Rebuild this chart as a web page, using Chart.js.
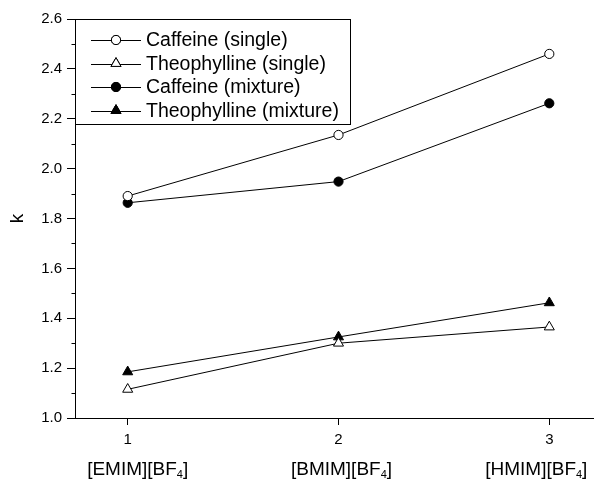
<!DOCTYPE html>
<html>
<head>
<meta charset="utf-8">
<script src="https://cdn.jsdelivr.net/npm/chart.js@4/dist/chart.umd.min.js"></script>
<style>
  html, body { margin: 0; padding: 0; background: #fff; overflow: hidden; }
  #wrap { width: 620px; height: 481px; }
</style>
</head>
<body>
<div id="wrap"><canvas id="c" width="620" height="481"></canvas></div>
<script>
// ---- data ----
const xPositions = [1, 2, 3];
const categoryNames = ["[EMIM][BF", "[BMIM][BF", "[HMIM][BF"]; // each followed by subscript 4 and "]"
const categorySub = "4";
const caffeineSingle = [1.89, 2.135, 2.46];
const theophyllineSingle = [1.115, 1.30, 1.365];
const caffeineMixture = [1.863, 1.948, 2.262];
const theophyllineMixture = [1.185, 1.325, 1.462];
const seriesNames = ["Caffeine (single)", "Theophylline (single)", "Caffeine (mixture)", "Theophylline (mixture)"];
const yTicks = [1.0, 1.2, 1.4, 1.6, 1.8, 2.0, 2.2, 2.4, 2.6];
const yMinorTicks = [1.1, 1.3, 1.5, 1.7, 1.9, 2.1, 2.3, 2.5];
const yTitle = "k";

const FONT = "'Liberation Sans', Arial, Helvetica, sans-serif";
// horizontal nudges of the category captions relative to their tick (layout only)
const captionShift = [10, 3, -13];

function pts(arr) { return arr.map((v, i) => ({ x: xPositions[i], y: v })); }

function ds(label, data, style, filled) {
  const r = style === 'circle' ? 4.6 : 5.8;
  return {
    label, data: pts(data),
    borderColor: '#000', borderWidth: 1,
    pointStyle: style, pointRadius: r, pointHoverRadius: r,
    pointBackgroundColor: filled ? '#000' : '#fff',
    pointBorderColor: '#000', pointBorderWidth: 1,
    tension: 0, fill: false
  };
}

const datasets = [
  ds(seriesNames[0], caffeineSingle, 'circle', false),
  ds(seriesNames[1], theophyllineSingle, 'triangle', false),
  ds(seriesNames[2], caffeineMixture, 'circle', true),
  ds(seriesNames[3], theophyllineMixture, 'triangle', true)
];

const extras = {
  id: 'extras',
  afterDraw(chart) {
    const ctx = chart.ctx;
    const xs = chart.scales.x, ys = chart.scales.y;
    ctx.save();
    // minor y ticks
    ctx.strokeStyle = '#000'; ctx.lineWidth = 1;
    const ax = Math.round(xs.left) + 0.5;
    yMinorTicks.forEach(v => {
      const y = Math.round(ys.getPixelForValue(v)) + 0.5;
      ctx.beginPath(); ctx.moveTo(ax - 4, y); ctx.lineTo(ax, y); ctx.stroke();
    });
    // category labels
    ctx.fillStyle = '#000';
    ctx.textBaseline = 'alphabetic';
    categoryNames.forEach((name, i) => {
      const cx = xs.getPixelForValue(xPositions[i]) + captionShift[i];
      ctx.font = "19px " + FONT;
      const w1 = ctx.measureText(name).width;
      const w3 = ctx.measureText("]").width;
      ctx.font = "11px " + FONT;
      const w2 = ctx.measureText(categorySub).width;
      let x = cx - (w1 + w2 + w3) / 2;
      const base = 475;
      ctx.textAlign = 'left';
      ctx.font = "19px " + FONT;
      ctx.fillText(name, x, base); x += w1;
      ctx.font = "11px " + FONT;
      ctx.fillText(categorySub, x, base + 3); x += w2;
      ctx.font = "19px " + FONT;
      ctx.fillText("]", x, base);
    });
    // legend
    const lx = Math.round(xs.left) + 0.5, ly = Math.round(ys.top) + 0.5;
    const lw = 275, lh = 105;
    ctx.fillStyle = '#fff';
    ctx.fillRect(lx, ly, lw, lh);
    ctx.strokeStyle = '#000'; ctx.lineWidth = 1;
    ctx.strokeRect(lx, ly, lw, lh);
    const rows = [40, 63.5, 87, 110.5];
    chart.data.datasets.forEach((d, i) => {
      const y = rows[i];
      ctx.strokeStyle = '#000'; ctx.lineWidth = 1;
      ctx.beginPath(); ctx.moveTo(91, Math.round(y) + 0.5); ctx.lineTo(141, Math.round(y) + 0.5); ctx.stroke();
      Chart.helpers.drawPoint(ctx, {
        pointStyle: d.pointStyle, radius: d.pointRadius, borderWidth: 1, rotation: 0
      }, 116, y);
      ctx.fillStyle = d.pointBackgroundColor;
      ctx.strokeStyle = '#000';
      ctx.fill(); ctx.stroke();
      ctx.fillStyle = '#000';
      ctx.font = "19.5px " + FONT;
      ctx.textAlign = 'left'; ctx.textBaseline = 'middle';
      ctx.fillText(d.label, 146, y + 1);
    });
    ctx.restore();
  }
};

new Chart(document.getElementById('c'), {
  type: 'line',
  data: { datasets },
  plugins: [extras],
  options: {
    responsive: false, animation: false, devicePixelRatio: 1,
    layout: { padding: { top: 19, right: 18, left: 0, bottom: 0 } },
    plugins: { legend: { display: false }, tooltip: { enabled: false } },
    scales: {
      x: {
        type: 'linear', position: 'bottom', min: 0.75, max: 3.25,
        afterBuildTicks: s => { s.ticks = xPositions.map(v => ({ value: v })); },
        afterFit: s => { s.height = 63; },
        grid: { drawOnChartArea: false, drawTicks: true, tickLength: 7, color: '#000', tickColor: '#000' },
        border: { display: true, color: '#000', width: 1 },
        ticks: { color: '#000', font: { family: FONT, size: 15 }, padding: 6, maxRotation: 0, callback: v => String(v) }
      },
      y: {
        type: 'linear', min: 1.0, max: 2.6,
        afterBuildTicks: s => { s.ticks = yTicks.map(v => ({ value: v })); },
        afterFit: s => { s.width = 75; },
        grid: { drawOnChartArea: false, drawTicks: true, tickLength: 8, color: '#000', tickColor: '#000' },
        border: { display: true, color: '#000', width: 1 },
        ticks: { color: '#000', font: { family: FONT, size: 15 }, padding: 5, callback: v => Number(v).toFixed(1) },
        title: { display: true, text: yTitle, color: '#000', font: { family: FONT, size: 19 }, padding: { top: 6, bottom: 0 } }
      }
    }
  }
});
</script>
</body>
</html>
